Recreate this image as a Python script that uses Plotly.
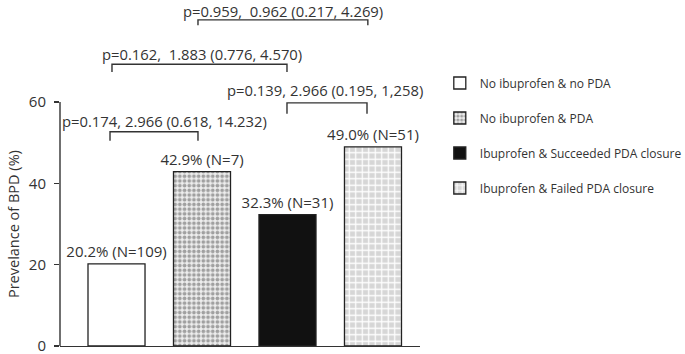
import plotly.graph_objects as go

# ---- data ----
groups = ["No ibuprofen & no PDA", "No ibuprofen & PDA",
          "Ibuprofen & Succeeded PDA closure", "Ibuprofen & Failed PDA closure"]
prevalence = [20.2, 42.9, 32.3, 49.0]
n_counts = [109, 7, 31, 51]
bar_labels = [f"{p:.1f}% (N={n})" for p, n in zip(prevalence, n_counts)]

# comparisons between groups
comp_text = ["p=0.174, 2.966 (0.618, 14.232)",
             "p=0.139, 2.966 (0.195, 1,258)",
             "p=0.162,  1.883 (0.776, 4.570)",
             "p=0.959,  0.962 (0.217, 4.269)"]
comp_left = [-0.076, 1.994, -0.053, 0.953]     # bracket left end (category units)
comp_right = [0.953, 2.93, 1.994, 2.94]        # bracket right end
comp_level = [52.7, 59.8, 69.3, 80.2]          # bracket height (%)
comp_drop = [2.2, 2.7, 1.9, 1.3]               # bracket leg length (%)
comp_text_x = [0.567, 2.439, 1.0, 1.947]       # label centre (category units)
comp_text_y = [55.4, 62.9, 71.9, 82.4]         # label centre (%)

yticks = [0, 20, 40, 60]

# ---- styles ----
INK = "#333333"
FONT = "Open Sans"
styles = [
    dict(color="white"),
    dict(color="#ececec", pattern=dict(shape=".", fgcolor="#a0a0a0", bgcolor="#eeeeee",
                                       size=4.7, solidity=0.5, fillmode="replace")),
    dict(color="#111111"),
    dict(color="#d6d6d6", pattern=dict(shape="+", fgcolor="white", bgcolor="#d6d6d6",
                                       size=6.5, solidity=0.35, fillmode="replace")),
]

fig = go.Figure()
for i, g in enumerate(groups):
    fig.add_trace(go.Bar(
        x=[i], y=[prevalence[i]], name=g, legendgroup=g,
        width=0.667,
        marker=dict(**styles[i], line=dict(color="#222222", width=1.3)),
        text=[bar_labels[i]], textposition="outside", constraintext="none",
        cliponaxis=False,
        textfont=dict(family=FONT, size=15, color=INK),
        hoverinfo="skip",
    ))

# brackets
for k in range(len(comp_text)):
    xl, xr, top, d = comp_left[k], comp_right[k], comp_level[k], comp_drop[k]
    fig.add_shape(type="path",
                  path=f"M {xl} {top - d} L {xl} {top} L {xr} {top} L {xr} {top - d}",
                  xref="x", yref="y", line=dict(color=INK, width=1.4))
    fig.add_annotation(x=comp_text_x[k], y=comp_text_y[k],
                       xref="x", yref="y", text=comp_text[k], showarrow=False,
                       font=dict(family=FONT, size=14.8, color=INK),
                       xanchor="center", yanchor="middle")

# y-axis line only up to 60
fig.add_shape(type="line", xref="paper", yref="y", x0=0, x1=0, y0=0, y1=60,
              line=dict(color=INK, width=1.4))

# y-axis title
fig.add_annotation(xref="paper", yref="y", x=0, y=30, xshift=-47,
                   xanchor="center", yanchor="middle",
                   text="Prevelance of BPD (%)", textangle=-90, showarrow=False,
                   font=dict(family=FONT, size=14.5, color=INK))

fig.update_layout(
    width=685, height=354,
    margin=dict(l=60, r=265, t=0, b=8, autoexpand=False),
    paper_bgcolor="white", plot_bgcolor="white",
    barmode="overlay",
    showlegend=True,
    legend=dict(x=1.055, xanchor="left", y=0.802, yanchor="top",
                font=dict(family=FONT, size=12, color=INK),
                tracegroupgap=16, traceorder="grouped", bgcolor="rgba(0,0,0,0)"),
    xaxis=dict(range=[-0.661, 3.55], showline=True, linecolor=INK, linewidth=1.4,
               showticklabels=False, ticks="", showgrid=False, zeroline=False,
               fixedrange=True, automargin=False),
    yaxis=dict(range=[0, 85.1], tickvals=yticks, ticks="outside", ticklen=5,
               tickwidth=1.4, tickcolor=INK, showline=False, showgrid=False,
               zeroline=False, ticklabelstandoff=5, ticklabeloverflow="allow",
               automargin=False,
               tickfont=dict(family=FONT, size=15, color=INK), fixedrange=True),
)

fig.write_html("out.html",
               config={"displayModeBar": False, "staticPlot": True},
               post_script="document.body.style.margin='0';document.body.style.overflow='hidden';")
